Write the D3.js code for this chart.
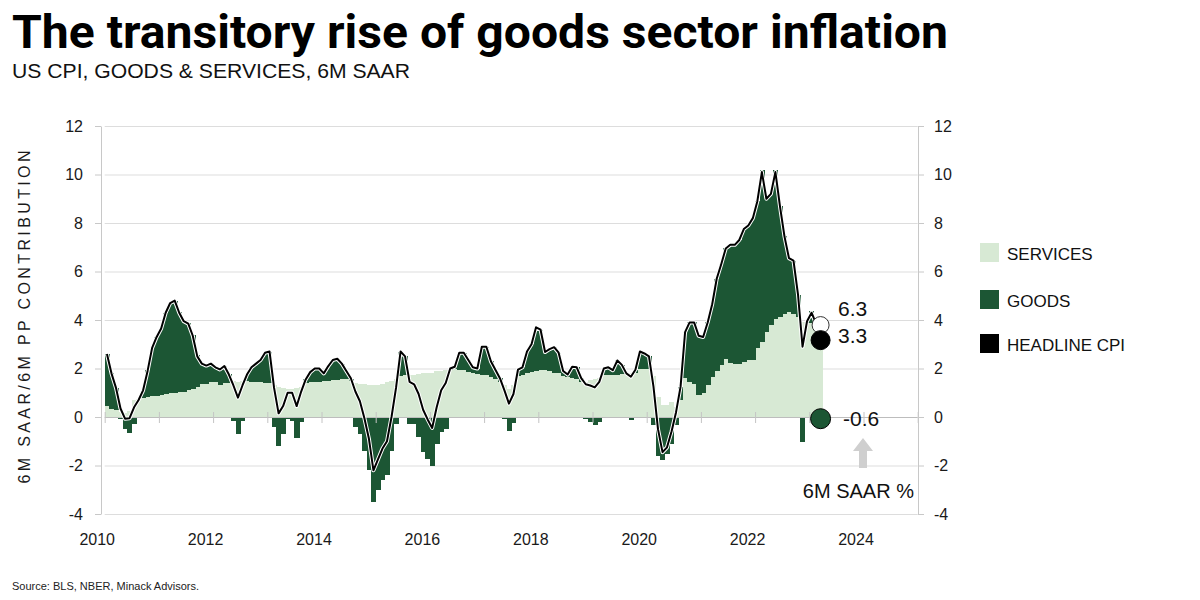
<!DOCTYPE html>
<html>
<head>
<meta charset="utf-8">
<title>The transitory rise of goods sector inflation</title>
<script src="https://d3js.org/d3.v7.min.js"></script>
<style>
  body { margin: 0; background: #fff; }
  svg { display: block; font-family: "Liberation Sans", Arial, sans-serif; }
</style>
</head>
<body>
<svg id="chart" width="1200" height="600"></svg>
<script>
// monthly, Jan 2010 .. Mar 2023, pp contribution to 6M SAAR CPI
const services = [
  0.45, 0.35, 0.28, 0.2, 0.15, 0.25, 0.72, 0.75, 0.8, 0.82, 0.85, 0.88,
  0.9, 0.95, 1.0, 1.0, 1.02, 1.05, 1.12, 1.17, 1.25, 1.35, 1.38, 1.45,
  1.45, 1.32, 1.4, 1.42, 1.5, 1.45, 1.5, 1.48, 1.45, 1.45, 1.45, 1.42,
  1.4, 1.3, 1.25, 1.2, 1.15, 1.15, 1.2, 1.25, 1.4, 1.45, 1.45, 1.45,
  1.5, 1.5, 1.52, 1.52, 1.55, 1.55, 1.5, 1.4, 1.35, 1.35, 1.32, 1.3,
  1.3, 1.35, 1.45, 1.5, 1.55, 1.7, 1.72, 1.75, 1.75, 1.78, 1.8, 1.8,
  1.82, 1.88, 1.9, 1.92, 1.95, 2.0, 1.95, 1.93, 1.85, 1.8, 1.78, 1.75,
  1.72, 1.65, 1.55, 1.45, 1.3, 1.15, 1.3, 1.7, 1.75, 1.8, 1.85, 1.9,
  1.95, 1.93, 1.88, 1.82, 1.8, 1.7, 1.66, 1.6, 1.58, 1.45, 1.45, 1.52,
  1.55, 1.6, 1.72, 1.72, 1.72, 1.75, 1.78, 1.8, 1.8, 1.8, 2.0, 2.0,
  2.0, 1.7, 0.83, 0.48, 0.48, 0.6, 0.41, 0.7, 1.59, 1.45, 1.38, 0.9,
  0.97, 1.31, 1.66, 1.9, 2.14, 2.41, 2.23, 2.18, 2.2, 2.28, 2.34, 2.34,
  2.83, 3.1, 3.52, 3.79, 4.03, 4.11, 4.25, 4.34, 4.25, 4.14, 3.93, 3.86,
  3.86, 3.85, 3.8
];
const goods = [
  2.15, 1.45, 0.9, -0.1, -0.5, -0.65, -0.3, -0.05, 0.3, 1.1, 2.0, 2.4,
  2.75, 3.35, 3.7, 3.8, 3.3, 2.9, 2.75, 2.2, 1.3, 0.85, 0.75, 0.75,
  0.6, 0.65, 0.7, 0.35, -0.15, -0.7, -0.15, 0.3, 0.6, 0.75, 0.9, 1.23,
  1.3, -0.4, -1.2, -0.7, -0.1, -0.15, -0.85, -0.2, 0.15, 0.4, 0.55, 0.55,
  0.3, 0.6, 0.83, 0.88, 0.65, 0.3, 0.05, -0.4, -0.7, -1.4, -2.2, -3.5,
  -3.0, -2.6, -2.4, -1.4, -0.3, 1.0, 0.78, -0.28, -0.28, -0.83, -1.45, -1.72,
  -2.0, -1.1, -0.62, -0.48, 0.05, 0.07, 0.7, 0.72, 0.5, 0.25, 0.22, 1.15,
  1.18, 0.65, 0.4, 0.15, -0.1, -0.58, -0.25, 0.25, 0.3, 0.9, 1.15, 1.8,
  1.65, 0.75, 0.92, 1.06, 0.85, 0.2, 0.09, 0.47, 0.47, 0.15, -0.1, -0.2,
  -0.35, -0.2, 0.28, 0.33, 0.21, 0.58, 0.37, 0.02, -0.14, 0.15, 0.7, 0.62,
  0.5, -0.34, -1.59, -1.77, -1.52, -1.1, -0.34, 0.55, 1.9, 2.45, 2.52, 2.45,
  2.33, 2.59, 3.0, 3.8, 4.16, 4.54, 4.87, 4.92, 5.1, 5.47, 5.56, 5.86,
  6.07, 7.1, 5.48, 5.41, 6.15, 4.6, 3.2, 2.2, 2.2, 0.9, -1.03, 0.1,
  0.5, 0.0, -0.1
];
const headline = [
  2.6, 1.8, 1.2, 0.35, -0.07, -0.05, 0.4, 0.7, 1.1, 1.9, 2.85, 3.3,
  3.65, 4.3, 4.7, 4.8, 4.3, 3.95, 3.85, 3.35, 2.5, 2.2, 2.12, 2.2,
  2.05, 1.96, 2.1, 1.75, 1.3, 0.8, 1.3, 1.75, 2.05, 2.2, 2.35, 2.65,
  2.7, 1.2, 0.15, 0.45, 1.0, 1.0, 0.45, 1.05, 1.55, 1.85, 2.0, 2.0,
  1.8, 2.1, 2.35, 2.4, 2.2, 1.9, 1.6, 1.05, 0.65, -0.05, -0.9, -2.2,
  -1.75, -1.3, -1.0, 0.0, 1.2, 2.7, 2.5, 1.45, 1.35, 0.95, 0.3, -0.1,
  -0.45, 0.4, 1.1, 1.4, 2.0, 2.07, 2.65, 2.65, 2.35, 2.05, 2.0, 2.9,
  2.9, 2.3, 1.95, 1.6, 1.1, 0.55, 0.95, 1.95, 2.05, 2.7, 3.0, 3.7,
  3.6, 2.68, 2.8, 2.88, 2.65, 1.9, 1.75, 2.07, 2.05, 1.6, 1.35, 1.3,
  1.22, 1.45, 2.0, 2.05, 1.93, 2.33, 2.15, 1.8, 1.66, 1.95, 2.7, 2.62,
  2.5, 1.25, -0.5, -1.45, -1.25, -0.6, 0.2, 1.25, 3.5, 3.9, 3.9, 3.35,
  3.3, 3.9, 4.65, 5.7, 6.3, 6.95, 7.1, 7.1, 7.3, 7.75, 7.9, 8.2,
  8.9, 10.1, 9.0, 9.2, 10.1, 8.7, 7.45, 6.55, 6.45, 5.05, 2.9, 3.95,
  4.3, 3.85, 3.3
];

const yTicks = [-4, -2, 0, 2, 4, 6, 8, 10, 12];
const yearTicks = [2010, 2011, 2012, 2013, 2014, 2015, 2016, 2017, 2018, 2019, 2020, 2021, 2022, 2023, 2024, 2025];
const yearLabels = [2010, 2012, 2014, 2016, 2018, 2020, 2022, 2024];
const legendNames = ["SERVICES", "GOODS", "HEADLINE CPI"];
// latest readings: position (pp contribution) and printed 6M SAAR value
const latestValues = [3.79, 3.17, -0.07];
const latestLabels = ["6.3", "3.3", "-0.6"];

const LIGHT = "#d7e9d4";
const DARK = "#1c5634";

const svg = d3.select("#chart");
const x = d3.scaleLinear().domain([2010, 2025]).range([104.7, 917.7]);
const y = d3.scaleLinear().domain([-4, 12]).range([514, 126]);
const monthStart = i => 2010 + i / 12;
const bw = x(2010 + 1 / 12) - x(2010);

// gridlines
svg.append("g").selectAll("line").data(yTicks.filter(d => d !== 0)).join("line")
  .attr("x1", x(2010)).attr("x2", x(2025))
  .attr("y1", d => y(d) + 0.5).attr("y2", d => y(d) + 0.5)
  .attr("stroke", "#dddddd");

// services bars
svg.append("g").attr("shape-rendering", "crispEdges")
  .selectAll("rect").data(services).join("rect")
  .attr("x", (d, i) => x(monthStart(i)))
  .attr("width", bw + 0.6)
  .attr("y", d => y(Math.max(d, 0)))
  .attr("height", d => Math.abs(y(d) - y(0)))
  .attr("fill", LIGHT);

// goods bars, stacked on services when positive, below zero when negative
svg.append("g").attr("shape-rendering", "crispEdges")
  .selectAll("rect").data(goods).join("rect")
  .attr("x", (d, i) => x(monthStart(i)))
  .attr("width", bw + 0.6)
  .attr("y", (d, i) => d >= 0 ? y(services[i] + d) : y(0))
  .attr("height", (d, i) => d >= 0 ? y(services[i]) - y(services[i] + d) : y(d) - y(0))
  .attr("fill", DARK);

// zero line + year ticks
svg.append("line")
  .attr("x1", x(2010)).attr("x2", x(2025))
  .attr("y1", y(0) + 0.5).attr("y2", y(0) + 0.5)
  .attr("stroke", "#bdbdbd");
svg.append("g").selectAll("line").data(yearTicks).join("line")
  .attr("x1", d => x(d) + 0.5).attr("x2", d => x(d) + 0.5)
  .attr("y1", y(0) - 5).attr("y2", y(0) + 6)
  .attr("stroke", "#c4c4c4");

// headline line with white casing
const line = d3.line()
  .x((d, i) => x(monthStart(i) + 1 / 24))
  .y(d => y(d));
svg.append("path").datum(headline)
  .attr("d", line).attr("fill", "none")
  .attr("stroke", "#fff").attr("stroke-width", 4).attr("stroke-linejoin", "round");
svg.append("path").datum(headline)
  .attr("d", line).attr("fill", "none")
  .attr("stroke", "#000").attr("stroke-width", 2).attr("stroke-linejoin", "round");

// axes
function styleAxis(g) {
  g.selectAll(".domain").attr("stroke", "#c8c8c8");
  g.selectAll(".tick line").attr("stroke", "#c8c8c8");
  g.selectAll(".tick text").attr("fill", "#1a1a1a").style("font-size", "16px")
    .style("font-family", "'Liberation Sans', Arial, sans-serif");
}
const plain = d => String(d);
svg.append("g").attr("transform", "translate(101,0)")
  .call(d3.axisLeft(y).tickValues(yTicks).tickFormat(plain).tickSize(6).tickSizeOuter(0).tickPadding(12))
  .call(styleAxis);
svg.append("g").attr("transform", "translate(918,0)")
  .call(d3.axisRight(y).tickValues(yTicks).tickFormat(plain).tickSize(6).tickSizeOuter(0).tickPadding(10))
  .call(styleAxis);
const xa = svg.append("g").attr("transform", "translate(0,514)")
  .call(d3.axisBottom(x).tickValues(yearLabels).tickFormat(plain).tickSize(0).tickPadding(20))
  .call(styleAxis);
xa.select(".domain").remove();
xa.selectAll(".tick text").attr("dx", -8);

// axis title
svg.append("text")
  .attr("transform", "translate(30,317) rotate(-90)")
  .attr("text-anchor", "middle")
  .attr("textLength", 333).attr("lengthAdjust", "spacing")
  .style("font-size", "16px").attr("fill", "#1a1a1a")
  .text("6M SAAR/6M PP CONTRIBUTION");

// latest markers
const lastX = x(monthStart(services.length - 1) + 1 / 24);
const markerStyle = [
  { fill: "#fff", stroke: "#333", r: 8.5 },
  { fill: "#000", stroke: "#000", r: 9.5 },
  { fill: DARK, stroke: "#000", r: 10 }
];
svg.append("g").selectAll("circle").data(latestValues).join("circle")
  .attr("cx", lastX).attr("cy", d => y(d))
  .attr("r", (d, i) => markerStyle[i].r)
  .attr("fill", (d, i) => markerStyle[i].fill)
  .attr("stroke", (d, i) => markerStyle[i].stroke).attr("stroke-width", 1);
const labelPos = [[838, 316], [838, 343], [843, 426]];
svg.append("g").selectAll("text").data(latestLabels).join("text")
  .attr("x", (d, i) => labelPos[i][0]).attr("y", (d, i) => labelPos[i][1])
  .style("font-size", "21px").attr("fill", "#111")
  .text(d => d);

// arrow + note
svg.append("path")
  .attr("d", "M863,438 L873,451 L867,451 L867,468 L859,468 L859,451 L853,451 Z")
  .attr("fill", "#cfcfcf");
svg.append("text")
  .attr("x", 914).attr("y", 498).attr("text-anchor", "end")
  .style("font-size", "20px").attr("fill", "#111")
  .text("6M SAAR %");

// legend
const legendY = [243, 290, 334];
const legendFill = [LIGHT, DARK, "#000"];
const lg = svg.append("g").selectAll("g").data(legendNames).join("g")
  .attr("transform", (d, i) => `translate(980,${legendY[i]})`);
lg.append("rect").attr("width", 19).attr("height", 19).attr("fill", (d, i) => legendFill[i]);
lg.append("text").attr("x", 27).attr("y", 17)
  .style("font-size", "17px").attr("fill", "#111").text(d => d);

// titles
svg.append("text")
  .attr("x", 12).attr("y", 48)
  .attr("textLength", 936).attr("lengthAdjust", "spacingAndGlyphs")
  .style("font-family", "Roboto, sans-serif").style("font-weight", 700).style("font-size", "47px")
  .attr("fill", "#000")
  .text("The transitory rise of goods sector inflation");
svg.append("text")
  .attr("x", 12).attr("y", 78)
  .attr("textLength", 398).attr("lengthAdjust", "spacingAndGlyphs")
  .style("font-size", "20px").attr("fill", "#111")
  .text("US CPI, GOODS & SERVICES, 6M SAAR");
svg.append("text")
  .attr("x", 12).attr("y", 590)
  .style("font-size", "11px").attr("fill", "#222")
  .text("Source: BLS, NBER, Minack Advisors.");
</script>
</body>
</html>
